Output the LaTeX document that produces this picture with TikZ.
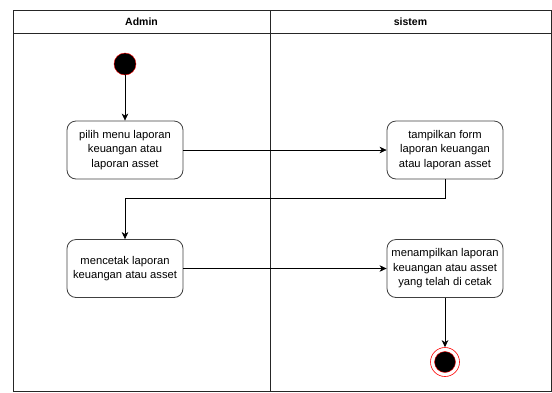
\documentclass[tikz,border=0pt]{standalone}
\usepackage{fontspec}
\setmainfont{Liberation Sans}
\usetikzlibrary{calc,arrows.meta}

\begin{document}
\begin{tikzpicture}[x=1pt, y=-1pt, font=\fontsize{11.2}{14.5}\selectfont]
	\tikzstyle{lane} = [draw=black!85, line width=0.8pt]
	\tikzstyle{aksi} = [rectangle, rounded corners=9pt, draw=black!75, line width=0.8pt, minimum width=116pt, minimum height=58pt, align=center, inner sep=1pt]
	\tikzstyle{mulai} = [circle, draw=red, fill=black, line width=0.4pt, minimum size=22pt, inner sep=0pt]
	\tikzstyle{selesai} = [circle, draw=red, fill=white, line width=0.6pt, minimum size=29pt, inner sep=0pt, path picture={\draw[red, fill=black, line width=0.4pt] (path picture bounding box.center) circle (10.5pt);}]
	\tikzstyle{edge} = [-{Stealth[length=7pt, width=6.5pt, inset=2pt]}, line width=0.7pt, black]
	\useasboundingbox (0,0) rectangle (552,392);
	% swimlanes
	\draw[lane] (13,391.5) -- (13,10) -- (551.5,10) -- (551.5,391.5) -- cycle;
	\draw[lane] (13,33) -- (551.5,33);
	\draw[lane] (270,10) -- (270,391.5);
	\node[font=\fontsize{10.5}{12}\selectfont\bfseries](admin) at (141.5,21.5){Admin};
	\node[font=\fontsize{10.5}{12}\selectfont\bfseries](sistem) at (410.5,21.5){sistem};
	% activities
	\node[mulai](start) at (125,64){};
	\node[aksi](pilih) at (125,150){pilih menu laporan\\keuangan atau\\laporan asset};
	\node[aksi](form) at (445,150){tampilkan form\\laporan keuangan\\atau laporan asset};
	\node[aksi](cetak) at (125,268.5){mencetak laporan\\keuangan atau asset};
	\node[aksi](tampil) at (445,268.5){menampilkan laporan\\keuangan atau asset\\yang telah di cetak};
	\node[selesai](stop) at (445,362){};
	\draw[edge](start) -- (pilih);
	\draw[edge](pilih) -- (form);
	\draw[edge](form.south) -- ++(0,19) -| (cetak.north);
	\draw[edge](cetak) -- (tampil);
	\draw[edge](tampil) -- (stop);
\end{tikzpicture}
\end{document}
